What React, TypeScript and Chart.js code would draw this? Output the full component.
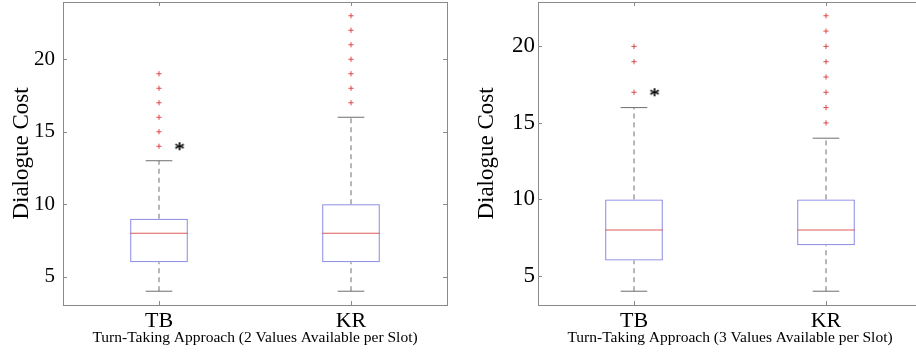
import React, { useEffect, useRef } from "react";
import { Chart, registerables } from "chart.js";
Chart.register(...registerables);

// ---------- data ----------
const categories = ["TB", "KR"];
const yTickValues = [5, 10, 15, 20];

// Panel A: 2 values available per slot
const aLower = [4, 4];
const aQ1 = [6, 6];
const aMedian = [8, 8];
const aQ3 = [9, 10];
const aUpper = [13, 16];
const aOutliersTB = [14, 15, 16, 17, 18, 19];
const aOutliersKR = [17, 18, 19, 20, 21, 22, 23];
const aStarY = 14; // asterisk next to TB
const aYMin = 3.05;
const aYMax = 23.95;
const aTitle = "Turn-Taking Approach (2 Values Available per Slot)";

// Panel B: 3 values available per slot
const bLower = [4, 4];
const bQ1 = [6, 7];
const bMedian = [8, 8];
const bQ3 = [10, 10];
const bUpper = [16, 14];
const bOutliersTB = [17, 19, 20];
const bOutliersKR = [15, 16, 17, 18, 19, 20, 21, 22];
const bStarY = 17;
const bYMin = 3.1;
const bYMax = 22.9;
const bTitle = "Turn-Taking Approach (3 Values Available per Slot)";

const yTitle = "Dialogue Cost";

// ---------- styles ----------
const SERIF = "'Liberation Serif', 'Times New Roman', serif";
const BOX_BLUE = "#7373dd";
const MED_RED = "#e05a5a";
const OUT_RED = "#e04848";
const WHISK = "#6e6e6e";
const FRAME = "#8a8a8a";

type PanelCfg = {
  lower: number[];
  q1: number[];
  median: number[];
  q3: number[];
  upper: number[];
  outliers: number[][];
  starY: number;
  yMin: number;
  yMax: number;
  xTitle: string;
  yWidth: number;
  padRight: number;
  yTickPad: number;
  yTickSize: number;
  yTitlePad: number;
};

function makeAsterisk(): HTMLCanvasElement {
  const c = document.createElement("canvas");
  c.width = 16;
  c.height = 16;
  const ctx = c.getContext("2d")!;
  ctx.font = `22px ${SERIF}`;
  ctx.fillStyle = "#000";
  ctx.textAlign = "center";
  ctx.textBaseline = "alphabetic";
  const m = ctx.measureText("*");
  const asc = m.actualBoundingBoxAscent;
  const desc = m.actualBoundingBoxDescent;
  const y = 8 + (asc - desc) / 2;
  ctx.fillText("*", 8, y);
  ctx.fillText("*", 8, y);
  return c;
}

const framePlugin = {
  id: "matlabFrame",
  afterDraw(chart: any) {
    const { ctx, chartArea } = chart;
    const { left, right, top, bottom } = chartArea;
    const xs = chart.scales.x;
    const ys = chart.scales.y;
    ctx.save();
    ctx.strokeStyle = FRAME;
    ctx.lineWidth = 1;
    ctx.strokeRect(Math.round(left) + 0.5, Math.round(top) + 0.5, Math.round(right - left), Math.round(bottom - top));
    const tl = 4;
    ctx.beginPath();
    ys.ticks.forEach((t: any) => {
      const y = Math.round(ys.getPixelForValue(t.value)) + 0.5;
      ctx.moveTo(left, y);
      ctx.lineTo(left + tl, y);
      ctx.moveTo(right, y);
      ctx.lineTo(right - tl, y);
    });
    xs.ticks.forEach((t: any) => {
      const x = Math.round(xs.getPixelForValue(t.value)) + 0.5;
      ctx.moveTo(x, bottom);
      ctx.lineTo(x, bottom - tl);
      ctx.moveTo(x, top);
      ctx.lineTo(x, top + tl);
    });
    ctx.stroke();
    ctx.restore();
  },
};

function buildConfig(p: PanelCfg): any {
  const xs = categories.map((_, i) => i + 1);
  const whiskerData: any[] = [];
  xs.forEach((x, i) => {
    whiskerData.push({ x, y: p.lower[i] }, { x, y: p.q1[i] }, { x, y: null });
    whiskerData.push({ x, y: p.q3[i] }, { x, y: p.upper[i] }, { x, y: null });
  });
  const capData: any[] = [];
  xs.forEach((x, i) => {
    capData.push({ x, y: p.lower[i] }, { x, y: p.upper[i] });
  });
  const outlierData: any[] = [];
  xs.forEach((x, i) => p.outliers[i].forEach((v) => outlierData.push({ x, y: v })));

  return {
    type: "bar",
    data: {
      datasets: [
        {
          type: "scatter",
          label: "median",
          data: xs.map((x, i) => ({ x, y: p.median[i] })),
          pointStyle: "line",
          pointRadius: 28.8,
          borderColor: MED_RED,
          borderWidth: 1,
          order: 0,
        },
        {
          type: "bar",
          label: "box",
          data: xs.map((x, i) => ({ x, y: [p.q1[i], p.q3[i]] })),
          backgroundColor: "rgba(255,255,255,0)",
          borderColor: BOX_BLUE,
          borderWidth: 1,
          borderSkipped: false,
          barPercentage: 0.3,
          categoryPercentage: 1,
          order: 1,
        },
        {
          type: "line",
          label: "whiskers",
          data: whiskerData,
          borderColor: WHISK,
          borderWidth: 1,
          borderDash: [5, 4],
          pointRadius: 0,
          spanGaps: false,
          fill: false,
          order: 2,
        },
        {
          type: "scatter",
          label: "caps",
          data: capData,
          pointStyle: "line",
          pointRadius: 13.3,
          borderColor: WHISK,
          borderWidth: 1,
          order: 2,
        },
        {
          type: "scatter",
          label: "outliers",
          data: outlierData,
          pointStyle: "cross",
          pointRadius: 2.6,
          borderColor: OUT_RED,
          borderWidth: 1,
          order: 0,
        },
        {
          type: "scatter",
          label: "significance",
          data: [{ x: 1.107, y: p.starY }],
          pointStyle: makeAsterisk(),
          pointRadius: 5,
          order: 0,
        },
      ],
    },
    options: {
      responsive: false,
      animation: false,
      events: [],
      devicePixelRatio: 1,
      layout: { autoPadding: false, padding: { left: 0, top: 2, right: p.padRight, bottom: 0 } },
      plugins: { legend: { display: false }, tooltip: { enabled: false } },
      scales: {
        x: {
          type: "linear",
          min: 0.5,
          max: 2.5,
          offset: false,
          grid: { display: false, drawTicks: false, offset: false },
          border: { display: false },
          afterBuildTicks: (s: any) => {
            s.ticks = xs.map((v) => ({ value: v }));
          },
          afterFit: (s: any) => {
            s.height = 49;
            s.paddingLeft = 0;
            s.paddingRight = 0;
          },
          ticks: {
            autoSkip: false,
            maxRotation: 0,
            padding: 3,
            color: "#000",
            font: { family: SERIF, size: 22 },
            callback: (v: number) => categories[Math.round(v) - 1] ?? "",
          },
          title: {
            display: true,
            text: p.xTitle,
            color: "#000",
            font: { family: SERIF, size: 15.5 },
            padding: { top: 0, bottom: 7 },
          },
        },
        y: {
          type: "linear",
          min: p.yMin,
          max: p.yMax,
          grid: { display: false, drawTicks: false },
          border: { display: false },
          afterBuildTicks: (s: any) => {
            s.ticks = yTickValues.map((v) => ({ value: v }));
          },
          afterFit: (s: any) => {
            s.width = p.yWidth;
            s.paddingTop = 0;
            s.paddingBottom = 0;
          },
          ticks: {
            padding: p.yTickPad,
            color: "#000",
            font: { family: SERIF, size: p.yTickSize },
          },
          title: {
            display: true,
            text: yTitle,
            color: "#000",
            font: { family: SERIF, size: 23 },
            padding: { top: p.yTitlePad, bottom: 0 },
          },
        },
      },
    },
    plugins: [framePlugin],
  };
}

function Panel(props: { cfg: PanelCfg; left: number; width: number }) {
  const ref = useRef<HTMLCanvasElement | null>(null);
  useEffect(() => {
    if (!ref.current) return;
    const chart = new Chart(ref.current, buildConfig(props.cfg));
    return () => chart.destroy();
  }, []);
  return (
    <canvas
      ref={ref}
      width={props.width}
      height={354}
      style={{ position: "absolute", left: props.left, top: 0, width: props.width, height: 354 }}
    />
  );
}

const panelA: PanelCfg = {
  lower: aLower,
  q1: aQ1,
  median: aMedian,
  q3: aQ3,
  upper: aUpper,
  outliers: [aOutliersTB, aOutliersKR],
  starY: aStarY,
  yMin: aYMin,
  yMax: aYMax,
  xTitle: aTitle,
  yWidth: 63,
  padRight: 11,
  yTickPad: 8,
  yTickSize: 21,
  yTitlePad: 8,
};

const panelB: PanelCfg = {
  lower: bLower,
  q1: bQ1,
  median: bMedian,
  q3: bQ3,
  upper: bUpper,
  outliers: [bOutliersTB, bOutliersKR],
  starY: bStarY,
  yMin: bYMin,
  yMax: bYMax,
  xTitle: bTitle,
  yWidth: 80,
  padRight: 6,
  yTickPad: 3,
  yTickSize: 23,
  yTitlePad: 15,
};

export default function App() {
  return (
    <div
      style={{
        position: "fixed",
        left: 0,
        top: 0,
        width: 916,
        height: 354,
        overflow: "hidden",
        background: "#fff",
      }}
    >
      <Panel cfg={panelA} left={0} width={458} />
      <Panel cfg={panelB} left={458} width={470} />
    </div>
  );
}
